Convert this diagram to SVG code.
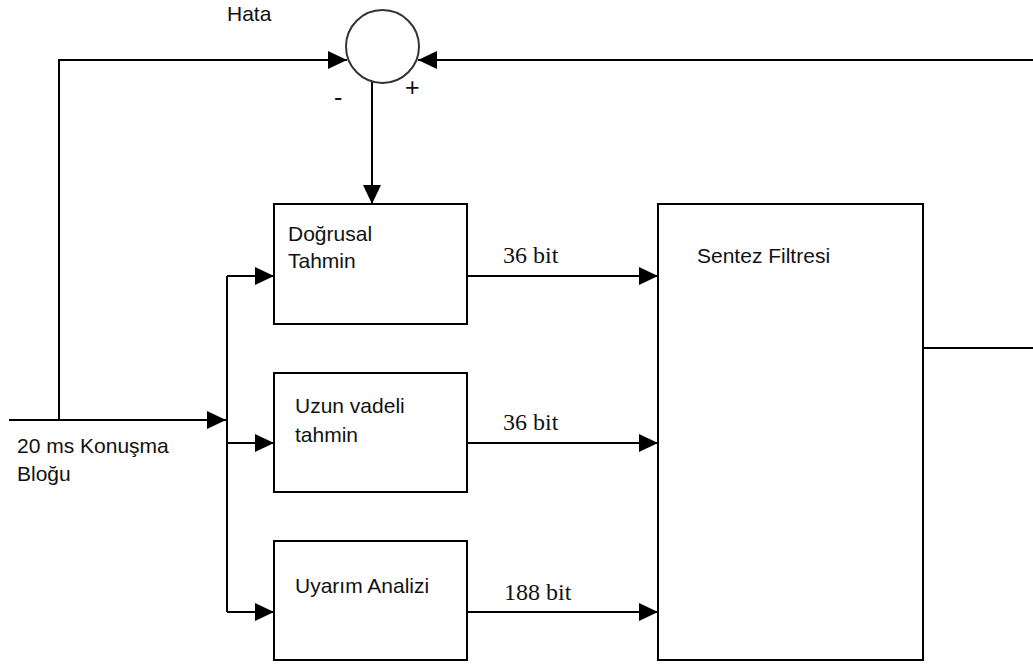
<svg xmlns="http://www.w3.org/2000/svg" width="1033" height="666" viewBox="0 0 1033 666">
<style>
.box{fill:#fff;stroke:#000;stroke-width:2}
.ln{fill:none;stroke:#000;stroke-width:2}
.sans{font-family:"Liberation Sans",Arial,sans-serif;font-size:21px;fill:#111}
.sign{font-family:"Liberation Sans",Arial,sans-serif;font-size:25px;fill:#111}
.serif{font-family:"Liberation Serif","Times New Roman",serif;font-size:24px;fill:#111}
</style>
<defs>
<marker id="ah" markerUnits="userSpaceOnUse" markerWidth="20" markerHeight="20" refX="19" refY="9" orient="auto">
<path d="M0,0 L19,9 L0,18 z" fill="#000"/>
</marker>
</defs>
<rect width="1033" height="666" fill="#fff"/>
<g id="connectors">
<path class="ln" d="M9,420 H226" marker-end="url(#ah)"/>
<path class="ln" d="M59,420 V60 H347" marker-end="url(#ah)"/>
<path class="ln" d="M1033,60 H418" marker-end="url(#ah)"/>
<path class="ln" d="M372,82 V204" marker-end="url(#ah)"/>
<path class="ln" d="M227,276 V612"/>
<path class="ln" d="M227,276 H274" marker-end="url(#ah)"/>
<path class="ln" d="M227,443 H274" marker-end="url(#ah)"/>
<path class="ln" d="M227,612 H274" marker-end="url(#ah)"/>
<path class="ln" d="M467,276 H658" marker-end="url(#ah)"/>
<path class="ln" d="M467,443 H658" marker-end="url(#ah)"/>
<path class="ln" d="M467,612 H658" marker-end="url(#ah)"/>
<path class="ln" d="M923,348 H1033"/>
<text class="serif" x="503" y="263">36 bit</text>
<text class="serif" x="503" y="430">36 bit</text>
<text class="serif" x="504" y="600">188 bit</text>
</g>
<g id="sum">
<circle cx="382.5" cy="46.5" r="36.5" fill="#fff" stroke="#333" stroke-width="2"/>
<text class="sans" x="227" y="21">Hata</text>
<text class="sign" x="334" y="106">-</text>
<text class="sign" x="405" y="96">+</text>
</g>
<g id="input">
<text class="sans" x="17" y="453">20 ms Konuşma</text>
<text class="sans" x="17" y="481">Bloğu</text>
</g>
<g id="dogrusal">
<rect class="box" x="274" y="204" width="193" height="120"/>
<text class="sans" x="288" y="241">Doğrusal</text>
<text class="sans" x="288" y="268">Tahmin</text>
</g>
<g id="uzun">
<rect class="box" x="274" y="373" width="193" height="119"/>
<text class="sans" x="295" y="413">Uzun vadeli</text>
<text class="sans" x="295" y="442">tahmin</text>
</g>
<g id="uyarim">
<rect class="box" x="274" y="541" width="193" height="119"/>
<text class="sans" x="295" y="593">Uyarım Analizi</text>
</g>
<g id="sentez">
<rect class="box" x="658" y="204" width="265" height="456"/>
<text class="sans" x="697" y="263">Sentez Filtresi</text>
</g>
</svg>
